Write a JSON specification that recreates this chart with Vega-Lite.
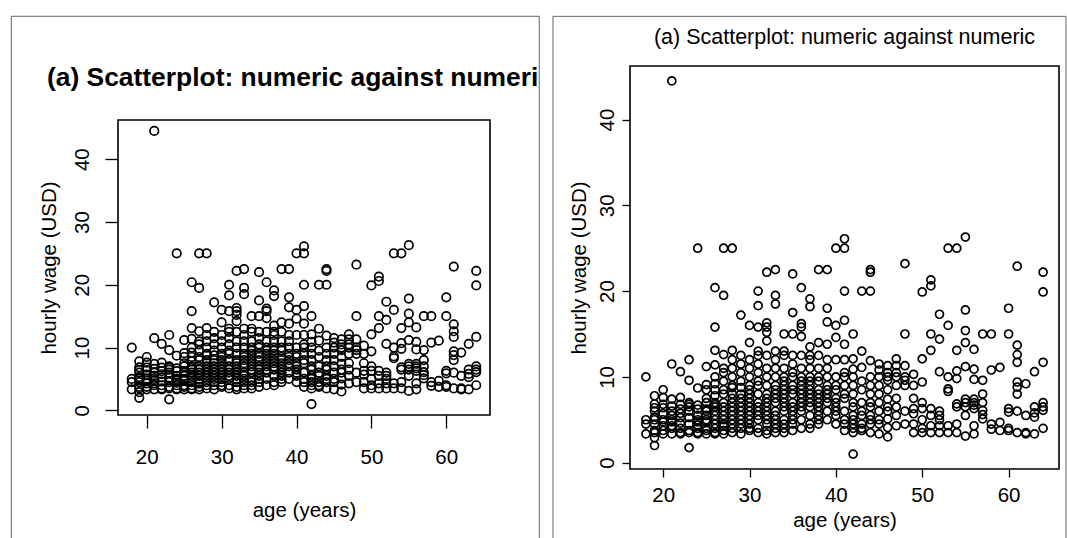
{
  "$schema": "https://vega.github.io/schema/vega-lite/v6.json",
  "autosize": {"type": "pad"},
  "padding": {"left": 9, "top": 14, "right": 0, "bottom": 0},
  "background": "white",
  "config": {
    "view": {"stroke": "black", "strokeWidth": 1.6},
    "font": "Liberation Sans",
    "axis": {"labelFont": "Liberation Sans", "titleFont": "Liberation Sans", "grid": false, "domain": false, "tickColor": "black", "tickWidth": 1.3, "labelColor": "black", "titleColor": "black", "labelFontSize": 20.5, "titleFontSize": 20.5, "titleFontWeight": "normal", "labelFlush": false, "labelOverlap": false},
    "title": {"font": "Liberation Sans", "color": "black"}
  },
  "data": {"values": [
    {"age":18,"wage":10},{"age":18,"wage":5},{"age":18,"wage":3.35},{"age":18,"wage":4.5},
    {"age":19,"wage":7.8},{"age":19,"wage":6.85},{"age":19,"wage":6.4},{"age":19,"wage":6},{"age":19,"wage":5.3},{"age":19,"wage":4.5},{"age":19,"wage":3.5},{"age":19,"wage":2.9},{"age":19,"wage":2.0},{"age":19,"wage":5},{"age":19,"wage":3.75},
    {"age":20,"wage":8.5},{"age":20,"wage":7.6},{"age":20,"wage":6.8},{"age":20,"wage":6.4},{"age":20,"wage":5.7},{"age":20,"wage":5},{"age":20,"wage":4.3},{"age":20,"wage":3.35},{"age":20,"wage":3.75},{"age":20,"wage":4.75},
    {"age":21,"wage":44.5},{"age":21,"wage":11.5},{"age":21,"wage":7.4},{"age":21,"wage":6.6},{"age":21,"wage":6},{"age":21,"wage":5.5},{"age":21,"wage":5},{"age":21,"wage":4.3},{"age":21,"wage":3.35},{"age":21,"wage":4},{"age":21,"wage":4.75},
    {"age":22,"wage":10.6},{"age":22,"wage":7.6},{"age":22,"wage":6.8},{"age":22,"wage":6.25},{"age":22,"wage":5.25},{"age":22,"wage":4.6},{"age":22,"wage":3.5},{"age":22,"wage":4},{"age":22,"wage":5.75},{"age":22,"wage":3.35},
    {"age":23,"wage":12},{"age":23,"wage":9.6},{"age":23,"wage":6.8},{"age":23,"wage":6},{"age":23,"wage":5.25},{"age":23,"wage":4.5},{"age":23,"wage":3.75},{"age":23,"wage":3.5},{"age":23,"wage":1.75},{"age":23,"wage":6.5},{"age":23,"wage":7},
    {"age":24,"wage":25},{"age":24,"wage":8.7},{"age":24,"wage":6.25},{"age":24,"wage":5.5},{"age":24,"wage":4.75},{"age":24,"wage":4},{"age":24,"wage":3.5},{"age":24,"wage":5},{"age":24,"wage":6.7},{"age":24,"wage":3.35},{"age":24,"wage":4.4},
    {"age":25,"wage":11.2},{"age":25,"wage":9.1},{"age":25,"wage":7},{"age":25,"wage":6.25},{"age":25,"wage":5.5},{"age":25,"wage":4.75},{"age":25,"wage":4},{"age":25,"wage":3.35},{"age":25,"wage":8.5},{"age":25,"wage":7.5},{"age":25,"wage":6},{"age":25,"wage":5},{"age":25,"wage":3.75},
    {"age":26,"wage":20.4},{"age":26,"wage":15.8},{"age":26,"wage":13.1},{"age":26,"wage":11.4},{"age":26,"wage":10},{"age":26,"wage":9.2},{"age":26,"wage":8.5},{"age":26,"wage":7.8},{"age":26,"wage":7},{"age":26,"wage":6.5},{"age":26,"wage":6},{"age":26,"wage":5.5},{"age":26,"wage":5},{"age":26,"wage":4.5},{"age":26,"wage":4},{"age":26,"wage":3.5},{"age":26,"wage":3.35},{"age":26,"wage":6.75},
    {"age":27,"wage":25},{"age":27,"wage":19.5},{"age":27,"wage":12.6},{"age":27,"wage":11},{"age":27,"wage":9.5},{"age":27,"wage":8.5},{"age":27,"wage":8},{"age":27,"wage":7},{"age":27,"wage":6.5},{"age":27,"wage":6},{"age":27,"wage":5.5},{"age":27,"wage":5},{"age":27,"wage":4.5},{"age":27,"wage":3.75},{"age":27,"wage":3.35},{"age":27,"wage":10.5},{"age":27,"wage":4.25},
    {"age":28,"wage":25},{"age":28,"wage":13.1},{"age":28,"wage":12},{"age":28,"wage":11},{"age":28,"wage":10},{"age":28,"wage":9},{"age":28,"wage":8},{"age":28,"wage":7.5},{"age":28,"wage":7},{"age":28,"wage":6},{"age":28,"wage":5.5},{"age":28,"wage":5},{"age":28,"wage":4.5},{"age":28,"wage":3.5},{"age":28,"wage":4},{"age":28,"wage":6.5},{"age":28,"wage":8.75},
    {"age":29,"wage":17.2},{"age":29,"wage":12.5},{"age":29,"wage":11.5},{"age":29,"wage":10.5},{"age":29,"wage":9.5},{"age":29,"wage":8},{"age":29,"wage":7},{"age":29,"wage":6.5},{"age":29,"wage":6},{"age":29,"wage":5},{"age":29,"wage":4.5},{"age":29,"wage":4},{"age":29,"wage":3.35},{"age":29,"wage":5.5},{"age":29,"wage":7.5},{"age":29,"wage":8.75},
    {"age":30,"wage":16},{"age":30,"wage":14},{"age":30,"wage":12},{"age":30,"wage":11},{"age":30,"wage":10},{"age":30,"wage":9},{"age":30,"wage":8.5},{"age":30,"wage":7.5},{"age":30,"wage":6.5},{"age":30,"wage":6},{"age":30,"wage":5},{"age":30,"wage":4.5},{"age":30,"wage":3.75},{"age":30,"wage":5.5},{"age":30,"wage":7},{"age":30,"wage":8},{"age":30,"wage":4},
    {"age":31,"wage":20},{"age":31,"wage":18.3},{"age":31,"wage":15.8},{"age":31,"wage":12.5},{"age":31,"wage":11.5},{"age":31,"wage":10.5},{"age":31,"wage":9.5},{"age":31,"wage":8},{"age":31,"wage":7},{"age":31,"wage":6},{"age":31,"wage":5},{"age":31,"wage":4},{"age":31,"wage":3.5},{"age":31,"wage":6.5},{"age":31,"wage":9},{"age":31,"wage":13},{"age":31,"wage":5.5},
    {"age":32,"wage":22.2},{"age":32,"wage":16.3},{"age":32,"wage":15.8},{"age":32,"wage":15.2},{"age":32,"wage":14.2},{"age":32,"wage":12.5},{"age":32,"wage":11},{"age":32,"wage":10},{"age":32,"wage":9},{"age":32,"wage":8},{"age":32,"wage":7.5},{"age":32,"wage":6.5},{"age":32,"wage":5.5},{"age":32,"wage":4.5},{"age":32,"wage":3.75},{"age":32,"wage":7},{"age":32,"wage":6},{"age":32,"wage":5},{"age":32,"wage":3.35},
    {"age":33,"wage":22.5},{"age":33,"wage":19.5},{"age":33,"wage":18.5},{"age":33,"wage":13},{"age":33,"wage":12},{"age":33,"wage":11},{"age":33,"wage":10},{"age":33,"wage":9},{"age":33,"wage":8},{"age":33,"wage":7},{"age":33,"wage":6},{"age":33,"wage":5},{"age":33,"wage":4},{"age":33,"wage":3.5},{"age":33,"wage":7.5},{"age":33,"wage":8.5},{"age":33,"wage":5.5},{"age":33,"wage":4.5},
    {"age":34,"wage":15},{"age":34,"wage":13},{"age":34,"wage":12.5},{"age":34,"wage":11},{"age":34,"wage":10},{"age":34,"wage":9.5},{"age":34,"wage":8.5},{"age":34,"wage":7.5},{"age":34,"wage":6.5},{"age":34,"wage":6},{"age":34,"wage":5},{"age":34,"wage":4.5},{"age":34,"wage":4},{"age":34,"wage":3.5},{"age":34,"wage":7},{"age":34,"wage":8},{"age":34,"wage":9},
    {"age":35,"wage":22},{"age":35,"wage":17.5},{"age":35,"wage":15},{"age":35,"wage":12.5},{"age":35,"wage":11.5},{"age":35,"wage":10},{"age":35,"wage":9},{"age":35,"wage":8},{"age":35,"wage":7},{"age":35,"wage":6},{"age":35,"wage":5},{"age":35,"wage":4.5},{"age":35,"wage":3.75},{"age":35,"wage":8.5},{"age":35,"wage":6.5},{"age":35,"wage":5.5},{"age":35,"wage":10.5},
    {"age":36,"wage":20.4},{"age":36,"wage":16.2},{"age":36,"wage":15.8},{"age":36,"wage":14.7},{"age":36,"wage":12.5},{"age":36,"wage":11},{"age":36,"wage":10},{"age":36,"wage":9},{"age":36,"wage":8},{"age":36,"wage":7},{"age":36,"wage":6},{"age":36,"wage":5},{"age":36,"wage":4},{"age":36,"wage":7.5},{"age":36,"wage":8.5},{"age":36,"wage":6.5},{"age":36,"wage":9.5},
    {"age":37,"wage":19.1},{"age":37,"wage":18.2},{"age":37,"wage":13.5},{"age":37,"wage":12},{"age":37,"wage":11},{"age":37,"wage":10},{"age":37,"wage":9},{"age":37,"wage":8.5},{"age":37,"wage":7.5},{"age":37,"wage":6.5},{"age":37,"wage":5.5},{"age":37,"wage":4.5},{"age":37,"wage":4},{"age":37,"wage":8},{"age":37,"wage":7},{"age":37,"wage":9.5},{"age":37,"wage":12.5},
    {"age":38,"wage":22.5},{"age":38,"wage":14},{"age":38,"wage":12.5},{"age":38,"wage":11},{"age":38,"wage":9.5},{"age":38,"wage":8.5},{"age":38,"wage":7.5},{"age":38,"wage":6.5},{"age":38,"wage":5.5},{"age":38,"wage":4.5},{"age":38,"wage":10},{"age":38,"wage":8},{"age":38,"wage":7},{"age":38,"wage":5},{"age":38,"wage":6},
    {"age":39,"wage":22.5},{"age":39,"wage":18},{"age":39,"wage":16.4},{"age":39,"wage":13.8},{"age":39,"wage":12},{"age":39,"wage":10},{"age":39,"wage":9},{"age":39,"wage":8},{"age":39,"wage":7},{"age":39,"wage":6},{"age":39,"wage":5},{"age":39,"wage":11},{"age":39,"wage":8.5},{"age":39,"wage":7.5},
    {"age":40,"wage":25},{"age":40,"wage":16},{"age":40,"wage":14.6},{"age":40,"wage":10},{"age":40,"wage":8.5},{"age":40,"wage":7},{"age":40,"wage":6},{"age":40,"wage":5.5},{"age":40,"wage":4.5},{"age":40,"wage":9},{"age":40,"wage":12},{"age":40,"wage":7.5},{"age":40,"wage":6.5},
    {"age":41,"wage":26.1},{"age":41,"wage":25},{"age":41,"wage":20},{"age":41,"wage":16.6},{"age":41,"wage":13.8},{"age":41,"wage":10},{"age":41,"wage":9},{"age":41,"wage":7.5},{"age":41,"wage":6},{"age":41,"wage":5},{"age":41,"wage":4.5},{"age":41,"wage":10.5},{"age":41,"wage":8},{"age":41,"wage":3.75},{"age":41,"wage":12},
    {"age":42,"wage":15},{"age":42,"wage":12.1},{"age":42,"wage":10.9},{"age":42,"wage":9},{"age":42,"wage":8},{"age":42,"wage":6.5},{"age":42,"wage":5},{"age":42,"wage":4},{"age":42,"wage":3.5},{"age":42,"wage":1},{"age":42,"wage":7},{"age":42,"wage":5.5},{"age":42,"wage":4.5},{"age":42,"wage":10},
    {"age":43,"wage":20},{"age":43,"wage":13},{"age":43,"wage":11.1},{"age":43,"wage":9.5},{"age":43,"wage":8.5},{"age":43,"wage":7},{"age":43,"wage":5.5},{"age":43,"wage":4.5},{"age":43,"wage":3.75},{"age":43,"wage":6},{"age":43,"wage":4},
    {"age":44,"wage":22.5},{"age":44,"wage":22.2},{"age":44,"wage":20},{"age":44,"wage":11.9},{"age":44,"wage":10},{"age":44,"wage":9},{"age":44,"wage":8},{"age":44,"wage":6.5},{"age":44,"wage":5.5},{"age":44,"wage":4.5},{"age":44,"wage":3.5},{"age":44,"wage":7},{"age":44,"wage":5},
    {"age":45,"wage":10.8},{"age":45,"wage":10},{"age":45,"wage":9},{"age":45,"wage":7},{"age":45,"wage":6},{"age":45,"wage":5},{"age":45,"wage":3.35},{"age":45,"wage":8},{"age":45,"wage":4.5},{"age":45,"wage":11.5},
    {"age":46,"wage":11.3},{"age":46,"wage":10.5},{"age":46,"wage":10},{"age":46,"wage":9.6},{"age":46,"wage":7.4},{"age":46,"wage":6.5},{"age":46,"wage":5.1},{"age":46,"wage":4.1},{"age":46,"wage":3},{"age":46,"wage":6},{"age":46,"wage":8.5},
    {"age":47,"wage":12.1},{"age":47,"wage":11.3},{"age":47,"wage":10.5},{"age":47,"wage":10},{"age":47,"wage":9},{"age":47,"wage":6.5},{"age":47,"wage":4.3},{"age":47,"wage":5.5},{"age":47,"wage":7.5},
    {"age":48,"wage":23.2},{"age":48,"wage":15},{"age":48,"wage":11.3},{"age":48,"wage":9.6},{"age":48,"wage":9},{"age":48,"wage":6},{"age":48,"wage":4.5},{"age":48,"wage":10},
    {"age":49,"wage":10.3},{"age":49,"wage":9},{"age":49,"wage":6.3},{"age":49,"wage":5.7},{"age":49,"wage":3.5},{"age":49,"wage":7.5},{"age":49,"wage":4.5},
    {"age":50,"wage":19.9},{"age":50,"wage":12.1},{"age":50,"wage":9.4},{"age":50,"wage":7},{"age":50,"wage":6.3},{"age":50,"wage":3.5},{"age":50,"wage":5},{"age":50,"wage":4},
    {"age":51,"wage":21.3},{"age":51,"wage":20.6},{"age":51,"wage":15},{"age":51,"wage":13.1},{"age":51,"wage":6.3},{"age":51,"wage":5.5},{"age":51,"wage":4.3},{"age":51,"wage":3.5},
    {"age":52,"wage":17.3},{"age":52,"wage":14.4},{"age":52,"wage":10.6},{"age":52,"wage":5.5},{"age":52,"wage":4.3},{"age":52,"wage":3.5},{"age":52,"wage":6},{"age":52,"wage":5},
    {"age":53,"wage":25},{"age":53,"wage":16},{"age":53,"wage":10},{"age":53,"wage":8.6},{"age":53,"wage":3.5},{"age":53,"wage":8.3},{"age":53,"wage":4.3},
    {"age":54,"wage":25},{"age":54,"wage":13.1},{"age":54,"wage":10.7},{"age":54,"wage":9.8},{"age":54,"wage":6.85},{"age":54,"wage":4.5},{"age":54,"wage":3.5},{"age":54,"wage":6.5},
    {"age":55,"wage":26.3},{"age":55,"wage":17.8},{"age":55,"wage":15.4},{"age":55,"wage":14},{"age":55,"wage":11.2},{"age":55,"wage":7.4},{"age":55,"wage":7},{"age":55,"wage":3.1},{"age":55,"wage":6.5},{"age":55,"wage":5.5},
    {"age":56,"wage":13.2},{"age":56,"wage":10.9},{"age":56,"wage":9.7},{"age":56,"wage":7.4},{"age":56,"wage":6.3},{"age":56,"wage":4.3},{"age":56,"wage":3.35},{"age":56,"wage":6.7},{"age":56,"wage":7},
    {"age":57,"wage":15},{"age":57,"wage":9.6},{"age":57,"wage":8},{"age":57,"wage":7},{"age":57,"wage":6.1},{"age":57,"wage":5.1},{"age":57,"wage":5.6},
    {"age":58,"wage":15},{"age":58,"wage":10.8},{"age":58,"wage":3.9},{"age":58,"wage":4.5},
    {"age":59,"wage":11.1},{"age":59,"wage":4.7},{"age":59,"wage":3.75},
    {"age":60,"wage":18},{"age":60,"wage":15},{"age":60,"wage":6.3},{"age":60,"wage":5.9},{"age":60,"wage":3.75},{"age":60,"wage":4},
    {"age":61,"wage":22.9},{"age":61,"wage":13.7},{"age":61,"wage":12.6},{"age":61,"wage":11.7},{"age":61,"wage":9.4},{"age":61,"wage":8.8},{"age":61,"wage":8},{"age":61,"wage":3.5},{"age":61,"wage":6},
    {"age":62,"wage":9.2},{"age":62,"wage":5.5},{"age":62,"wage":3.5},{"age":62,"wage":3.35},
    {"age":63,"wage":10.6},{"age":63,"wage":6.5},{"age":63,"wage":5.3},{"age":63,"wage":3.35},{"age":63,"wage":5.8},
    {"age":64,"wage":22.2},{"age":64,"wage":19.9},{"age":64,"wage":11.7},{"age":64,"wage":7},{"age":64,"wage":6.1},{"age":64,"wage":4},{"age":64,"wage":6.5}
  ]},
  "bounds": "flush",
  "center": true,
  "spacing": 140,
  "hconcat": [
    {
      "width": 372,
      "height": 295,
      "title": {"text": "(a) Scatterplot: numeric against numeri", "anchor": "start", "frame": "group", "dx": -71, "fontSize": 26.4, "fontWeight": "bold", "baseline": "alphabetic", "offset": -97, "color": "black"},
      "layer": [
        {
          "mark": {"type": "point", "shape": "circle", "filled": false, "color": "black", "strokeWidth": 1.7, "size": 72, "opacity": 1},
          "encoding": {
            "x": {"field": "age", "type": "quantitative", "scale": {"domain": [16.16, 65.84], "nice": false, "zero": false},
                  "axis": {"title": "age (years)", "values": [20, 30, 40, 50, 60], "tickSize": 13, "labelPadding": 19, "labelBaseline": "top", "titleBaseline": "alphabetic", "titlePadding": 49}},
            "y": {"field": "wage", "type": "quantitative", "scale": {"domain": [-0.74, 46.24], "nice": false, "zero": false},
                  "axis": {"title": "hourly wage (USD)", "values": [0, 10, 20, 30, 40], "tickSize": 13, "labelAngle": 270, "labelAlign": "center", "labelBaseline": "alphabetic", "labelPadding": 16.7, "titleAngle": 270, "titleBaseline": "alphabetic", "titlePadding": 17}}
          }
        },
        {
          "data": {"values": [{}]},
          "mark": {"type": "rule", "color": "#666", "strokeWidth": 1},
          "encoding": {
            "x": {"datum": 1.91, "type": "quantitative", "scale": {"domain": [16.16, 65.84], "nice": false, "zero": false}},
            "y": {"datum": 62.76, "type": "quantitative", "scale": {"domain": [-0.74, 46.24], "nice": false, "zero": false}},
            "y2": {"datum": -20.38}
          }
        },
        {
          "data": {"values": [{}]},
          "mark": {"type": "rule", "color": "#666", "strokeWidth": 1},
          "encoding": {
            "x": {"datum": 72.42, "type": "quantitative", "scale": {"domain": [16.16, 65.84], "nice": false, "zero": false}},
            "y": {"datum": 62.76, "type": "quantitative", "scale": {"domain": [-0.74, 46.24], "nice": false, "zero": false}},
            "y2": {"datum": -20.38}
          }
        },
        {
          "data": {"values": [{}]},
          "mark": {"type": "rule", "color": "#666", "strokeWidth": 1},
          "encoding": {
            "x": {"datum": 1.91, "type": "quantitative", "scale": {"domain": [16.16, 65.84], "nice": false, "zero": false}},
            "x2": {"datum": 72.42},
            "y": {"datum": 62.76, "type": "quantitative", "scale": {"domain": [-0.74, 46.24], "nice": false, "zero": false}}
          }
        }
      ]
    },
    {
      "width": 429,
      "height": 403,
      "title": {"text": "(a) Scatterplot: numeric against numeric", "anchor": "middle", "frame": "group", "fontSize": 21.5, "fontWeight": "normal", "baseline": "alphabetic", "offset": -50, "color": "black"},
      "layer": [
        {
          "mark": {"type": "point", "shape": "circle", "filled": false, "color": "black", "strokeWidth": 1.7, "size": 64, "opacity": 1},
          "encoding": {
            "x": {"field": "age", "type": "quantitative", "scale": {"domain": [16.16, 65.84], "nice": false, "zero": false},
                  "axis": {"title": "age (years)", "values": [20, 30, 40, 50, 60], "tickSize": 8, "labelPadding": 8, "labelBaseline": "top", "titleBaseline": "alphabetic", "titlePadding": 21}},
            "y": {"field": "wage", "type": "quantitative", "scale": {"domain": [-0.74, 46.24], "nice": false, "zero": false},
                  "axis": {"title": "hourly wage (USD)", "values": [0, 10, 20, 30, 40], "tickSize": 8, "labelAngle": 270, "labelAlign": "center", "labelBaseline": "alphabetic", "labelPadding": 9, "titleAngle": 270, "titleBaseline": "alphabetic", "titlePadding": 12}}
          }
        },
        {
          "data": {"values": [{}]},
          "mark": {"type": "rule", "color": "#666", "strokeWidth": 1},
          "encoding": {
            "x": {"datum": 7.24, "type": "quantitative", "scale": {"domain": [16.16, 65.84], "nice": false, "zero": false}},
            "y": {"datum": 52.03, "type": "quantitative", "scale": {"domain": [-0.74, 46.24], "nice": false, "zero": false}},
            "y2": {"datum": -8.82}
          }
        },
        {
          "data": {"values": [{}]},
          "mark": {"type": "rule", "color": "#666", "strokeWidth": 1},
          "encoding": {
            "x": {"datum": 66.65, "type": "quantitative", "scale": {"domain": [16.16, 65.84], "nice": false, "zero": false}},
            "y": {"datum": 52.03, "type": "quantitative", "scale": {"domain": [-0.74, 46.24], "nice": false, "zero": false}},
            "y2": {"datum": -8.82}
          }
        },
        {
          "data": {"values": [{}]},
          "mark": {"type": "rule", "color": "#666", "strokeWidth": 1},
          "encoding": {
            "x": {"datum": 7.24, "type": "quantitative", "scale": {"domain": [16.16, 65.84], "nice": false, "zero": false}},
            "x2": {"datum": 66.65},
            "y": {"datum": 52.03, "type": "quantitative", "scale": {"domain": [-0.74, 46.24], "nice": false, "zero": false}}
          }
        }
      ]
    }
  ]
}
